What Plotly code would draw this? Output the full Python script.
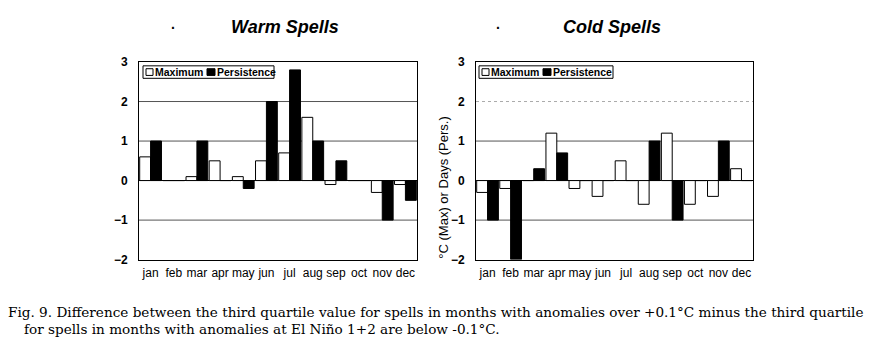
import plotly.graph_objects as go

months = ["jan", "feb", "mar", "apr", "may", "jun", "jul", "aug", "sep", "oct", "nov", "dec"]
warm_max = [0.6, 0.0, 0.1, 0.5, 0.1, 0.5, 0.7, 1.6, -0.1, 0.0, -0.3, -0.1]
warm_pers = [1.0, 0.0, 1.0, 0.0, -0.2, 2.0, 2.8, 1.0, 0.5, 0.0, -1.0, -0.5]
cold_max = [-0.3, -0.2, 0.0, 1.2, -0.2, -0.4, 0.5, -0.6, 1.2, -0.6, -0.4, 0.3]
cold_pers = [-1.0, -2.0, 0.3, 0.7, 0.0, 0.0, 0.0, 1.0, -1.0, 0.0, 1.0, 0.0]
y_ticks = [-2, -1, 0, 1, 2, 3]
titles = ["Warm Spells", "Cold Spells"]
y_title = "°C (Max) or Days (Pers.)"
caption1 = "Fig. 9. Difference between the third quartile value for spells in months with anomalies over +0.1°C minus the third quartile"
caption2 = "for spells in months with anomalies at El Niño 1+2 are below -0.1°C."

OFF = 8  # page body margin
W, H = 875 - OFF, 352 - OFF
FONT = "Liberation Sans"


def px(x):
    return (x - OFF) / W


def py(y):
    return 1 - (y - OFF) / H


fig = go.Figure()
for i, (vmax, vpers) in enumerate([(warm_max, warm_pers), (cold_max, cold_pers)]):
    xa = "x" if i == 0 else "x2"
    ya = "y" if i == 0 else "y2"
    fig.add_trace(go.Bar(x=months, y=vmax, name="Maximum", xaxis=xa, yaxis=ya,
                         marker=dict(color="white", line=dict(color="black", width=1)),
                         showlegend=False))
    fig.add_trace(go.Bar(x=months, y=vpers, name="Persistence", xaxis=xa, yaxis=ya,
                         marker=dict(color="black", line=dict(color="black", width=1)),
                         showlegend=False))

domains_x = [[px(139), px(417)], [px(476), px(753)]]
domain_y = [py(263), py(57)]

axis_common_x = dict(type="category", showline=True, mirror=True, linecolor="black", linewidth=1,
                     ticks="", showgrid=False, ticklabelstandoff=2,
                     tickfont=dict(family=FONT, size=12, color="black"))
axis_common_y = dict(range=[-2, 3], tickvals=y_ticks, showline=True, mirror=True, linecolor="black",
                     linewidth=1, ticks="", showgrid=False, zeroline=True, zerolinecolor="black",
                     zerolinewidth=1, ticklabelstandoff=8,
                     tickfont=dict(family=FONT, size=12, color="black", weight="bold"))

fig.update_layout(
    width=W, height=H, margin=dict(l=0, r=0, t=0, b=0),
    paper_bgcolor="white", plot_bgcolor="white",
    barmode="group", bargap=0.06, bargroupgap=0.0,
    xaxis=dict(domain=domains_x[0], anchor="y", **axis_common_x),
    xaxis2=dict(domain=domains_x[1], anchor="y2", **axis_common_x),
    yaxis=dict(domain=domain_y, anchor="x", **axis_common_y),
    yaxis2=dict(domain=domain_y, anchor="x2", **axis_common_y),
)

# grid lines
for i in range(2):
    xr = "x domain" if i == 0 else "x2 domain"
    yr = "y" if i == 0 else "y2"
    for g in [1, 2, -1]:
        dotted = (i == 1 and g == 2)
        fig.add_shape(type="line", xref=xr, yref=yr, x0=0, x1=1, y0=g, y1=g,
                      line=dict(color="#aaaaaa" if dotted else "#555555", width=1,
                                dash="dot" if dotted else "solid"), layer="below")

# legends (drawn as boxes inside each panel)
legend_boxes = [(143, 274), (479, 613)]
for lx0, lx1 in legend_boxes:
    fig.add_shape(type="rect", xref="paper", yref="paper",
                  x0=px(lx0), x1=px(lx1), y0=py(74), y1=py(61),
                  line=dict(color="black", width=1), fillcolor="white")
    fig.add_shape(type="rect", xref="paper", yref="paper",
                  x0=px(lx0 + 3), x1=px(lx0 + 10), y0=py(71), y1=py(64),
                  line=dict(color="black", width=1), fillcolor="white")
    fig.add_annotation(text="Maximum", xref="paper", yref="paper",
                       x=px(lx0 + 10), y=py(67.5), xanchor="left", yanchor="middle",
                       showarrow=False, font=dict(family=FONT, size=10.5, color="black", weight="bold"))
    fig.add_shape(type="rect", xref="paper", yref="paper",
                  x0=px(lx0 + 64), x1=px(lx0 + 72), y0=py(71), y1=py(64),
                  line=dict(color="black", width=1), fillcolor="black")
    fig.add_annotation(text="Persistence", xref="paper", yref="paper",
                       x=px(lx0 + 72), y=py(67.5), xanchor="left", yanchor="middle",
                       showarrow=False, font=dict(family=FONT, size=10.5, color="black", weight="bold"))

# y title of the right panel
fig.add_annotation(text=y_title, xref="paper", yref="paper", x=px(444), y=py(188),
                   xanchor="center", yanchor="middle", textangle=-90, showarrow=False,
                   font=dict(family=FONT, size=13, color="black"))

# titles
for x, t in zip([285, 612], titles):
    fig.add_annotation(text=t, xref="paper", yref="paper", x=px(x), y=py(21),
                       xanchor="center", yanchor="middle", showarrow=False,
                       font=dict(family=FONT, size=18, color="black", weight="bold", style="italic"))
for x in [173, 498]:
    fig.add_annotation(text="·", xref="paper", yref="paper", x=px(x), y=py(22),
                       xanchor="center", yanchor="middle", showarrow=False,
                       font=dict(family=FONT, size=14, color="black", weight="bold"))

# caption
fig.add_annotation(text=caption1, xref="paper", yref="paper", x=px(6), y=py(318),
                   xanchor="left", yanchor="middle", showarrow=False,
                   font=dict(family="DejaVu Serif", size=13.6, color="black"))
fig.add_annotation(text=caption2, xref="paper", yref="paper", x=px(22), y=py(335),
                   xanchor="left", yanchor="middle", showarrow=False,
                   font=dict(family="DejaVu Serif", size=13.6, color="black"))

fig.write_html("out.html")
